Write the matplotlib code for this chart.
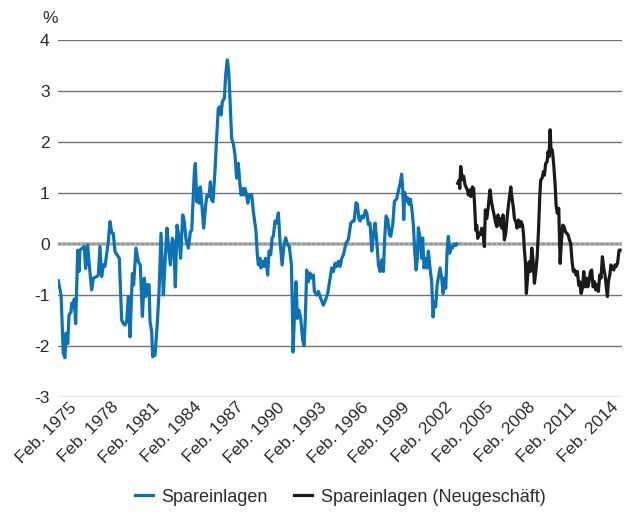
import matplotlib
matplotlib.use("Agg")
import matplotlib.pyplot as plt
import matplotlib.transforms as mtransforms

plt.rcParams['font.family'] = ['Liberation Sans', 'DejaVu Sans']
plt.rcParams['axes.unicode_minus'] = False

# Realzins Spareinlagen, in % (decimal years)
spar_dates = [
    1973.82, 1974.02, 1974.18, 1974.30, 1974.38, 1974.50, 1974.59, 1974.74, 1974.78, 1974.90,
    1974.97, 1975.07, 1975.22, 1975.31, 1975.38, 1975.55, 1975.69, 1975.79, 1975.93, 1976.05,
    1976.22, 1976.34, 1976.58, 1976.70, 1976.82, 1976.94, 1977.06, 1977.18, 1977.42, 1977.54,
    1977.66, 1977.78, 1977.90, 1978.09, 1978.21, 1978.38, 1978.50, 1978.62, 1978.74, 1978.86,
    1978.98, 1979.15, 1979.24, 1979.41, 1979.58, 1979.72, 1979.87, 1980.01, 1980.11, 1980.20,
    1980.35, 1980.42, 1980.54, 1980.61, 1980.78, 1980.95, 1981.07, 1981.21, 1981.38, 1981.50,
    1981.64, 1981.74, 1981.88, 1982.03, 1982.12, 1982.24, 1982.36, 1982.50, 1982.62, 1982.77,
    1982.89, 1983.01, 1983.18, 1983.32, 1983.42, 1983.51, 1983.61, 1983.68, 1983.78, 1983.85,
    1983.94, 1984.04, 1984.14, 1984.28, 1984.42, 1984.52, 1984.66, 1984.76, 1984.86, 1984.95,
    1985.09, 1985.21, 1985.33, 1985.43, 1985.53, 1985.62, 1985.77, 1985.86, 1985.98, 1986.08,
    1986.17, 1986.29, 1986.41, 1986.53, 1986.65, 1986.77, 1986.89, 1986.97, 1987.06, 1987.16,
    1987.25, 1987.37, 1987.45, 1987.57,
    1987.73, 1987.85, 1988.04, 1988.14, 1988.21, 1988.33, 1988.40, 1988.52, 1988.62, 1988.72,
    1988.81, 1988.88, 1988.98, 1989.10, 1989.20, 1989.29, 1989.41, 1989.53, 1989.65, 1989.77,
    1989.92, 1990.06, 1990.18, 1990.30, 1990.44, 1990.59, 1990.66, 1990.71, 1990.80, 1990.92,
    1991.02, 1991.14, 1991.26, 1991.40, 1991.50, 1991.59, 1991.69, 1991.81, 1991.93, 1992.05,
    1992.17, 1992.24, 1992.41, 1992.53, 1992.70, 1992.89, 1993.08, 1993.20, 1993.37, 1993.49,
    1993.61, 1993.73, 1993.85, 1993.97, 1994.09, 1994.21, 1994.33, 1994.52, 1994.69, 1994.86,
    1995.00, 1995.10, 1995.24, 1995.34, 1995.43, 1995.53, 1995.65, 1995.77, 1995.91, 1996.01,
    1996.13, 1996.25, 1996.37, 1996.49, 1996.61, 1996.73, 1996.85, 1996.97, 1997.09, 1997.21,
    1997.30, 1997.40, 1997.52, 1997.64, 1997.73, 1997.88, 1998.00, 1998.16, 1998.28, 1998.40,
    1998.52, 1998.60, 1998.67, 1998.74, 1998.84, 1998.93, 1999.05, 1999.15, 1999.27, 1999.36,
    1999.46, 1999.56, 1999.65, 1999.72, 1999.84, 1999.96, 2000.03, 2000.13, 2000.25, 2000.35,
    2000.44, 2000.56, 2000.68, 2000.78, 2000.87, 2000.97, 2001.07, 2001.19, 2001.28, 2001.40,
    2001.50, 2001.59, 2001.69, 2001.79, 2001.88, 2001.98, 2002.07, 2002.17, 2002.29, 2002.41,
    2002.48,
]
spar_values = [
    -0.72, -1.00, -2.14, -2.23, -1.75, -1.95, -1.39, -1.33, -1.16, -1.23,
    -1.08, -1.56, -0.12, -0.54, -0.12, -0.08, -0.05, -0.48, -0.02, -0.41,
    -0.90, -0.67, -0.64, -0.61, -0.05, -0.64, -0.41, -0.44, 0.05, 0.44,
    0.22, 0.21, -0.15, -0.23, -0.28, -1.49, -1.56, -1.59, -1.52, -1.03,
    -1.82, -0.58, -0.80, -0.08, -0.35, -0.41, -1.42, -0.67, -1.03, -0.80,
    -0.80, -1.52, -1.72, -2.21, -2.18, -1.52, -0.93, 0.21, -1.00, -0.35,
    0.31, -0.02, -0.41, 0.11, 0.05, -0.84, 0.37, 0.14, -0.28, 0.57,
    0.44, 0.08, -0.08, 0.24, 0.27, 0.83, 1.42, 1.58, 0.83, 1.09,
    0.80, 1.12, 0.80, 0.31, 0.76, 0.96, 0.93, 1.22, 0.86, 0.83,
    1.42, 2.07, 2.66, 2.69, 2.53, 2.79, 2.86, 3.31, 3.61, 3.38,
    2.86, 2.07, 1.97, 1.75, 1.29, 1.58, 1.16, 0.96, 1.09, 0.96,
    1.09, 0.96, 0.80, 0.96,
    0.97, 0.64, 0.25, -0.21, -0.41, -0.28, -0.47, -0.34, -0.44, -0.28,
    -0.41, -0.61, -0.14, -0.21, 0.12, 0.15, 0.45, 0.41, 0.61, 0.05,
    -0.41, -0.01, 0.12, -0.01, -0.05, -0.41, -1.26, -2.12, -1.46, -0.74,
    -1.46, -1.30, -1.46, -1.89, -1.99, -1.46, -0.51, -0.74, -0.57, -0.67,
    -0.61, -0.93, -1.00, -0.93, -1.07, -1.20, -1.07, -0.97, -0.67, -0.47,
    -0.54, -0.38, -0.44, -0.34, -0.44, -0.28, -0.21, 0.02, 0.09, 0.41,
    0.45, 0.45, 0.81, 0.78, 0.51, 0.45, 0.55, 0.51, 0.66, 0.61,
    0.38, 0.41, -0.14, 0.18, 0.41, 0.05, -0.41, -0.54, -0.31, -0.54,
    0.12, 0.55, 0.48, 0.18, 0.15, 0.38, 0.84, 0.88, 1.04, 1.17,
    1.37, 1.07, 0.48, 1.01, 0.84, 0.91, 0.78, 0.88, 0.64, 0.38,
    -0.14, -0.51, -0.28, 0.32, 0.12, -0.28, 0.12, -0.47, -0.28, -0.47,
    -0.14, -0.47, -0.74, -1.43, -1.13, -1.23, -0.80, -0.61, -0.47, -0.67,
    -0.97, -0.67, -0.87, -0.14, 0.15, -0.18, -0.05, -0.08, 0.00, -0.03,
    0.00,
]

# Realzins Spareinlagen im Neugeschäft, in %
neu_dates = [
    2002.55, 2002.65, 2002.70, 2002.77, 2002.84, 2002.91, 2002.98, 2003.08, 2003.15, 2003.25,
    2003.32, 2003.42, 2003.51, 2003.61, 2003.70, 2003.78, 2003.85, 2003.92, 2003.99, 2004.09,
    2004.18, 2004.28, 2004.38, 2004.47, 2004.54, 2004.64, 2004.74, 2004.81, 2004.88, 2004.98,
    2005.07, 2005.17, 2005.26, 2005.36, 2005.45, 2005.55, 2005.65, 2005.72, 2005.81, 2005.91,
    2006.01, 2006.10, 2006.20, 2006.29, 2006.37, 2006.46, 2006.56, 2006.63, 2006.73, 2006.82,
    2006.92, 2007.01, 2007.11, 2007.21, 2007.28, 2007.35, 2007.42, 2007.49, 2007.59, 2007.69,
    2007.78, 2007.88, 2007.97, 2008.07, 2008.17, 2008.26, 2008.36, 2008.45, 2008.52, 2008.62,
    2008.72, 2008.79, 2008.88, 2008.98, 2009.05, 2009.12, 2009.20, 2009.27, 2009.36, 2009.46,
    2009.56, 2009.63, 2009.72, 2009.82, 2009.92, 2010.01, 2010.11, 2010.20, 2010.30, 2010.40,
    2010.49, 2010.59, 2010.68, 2010.78, 2010.87, 2010.97, 2011.07, 2011.16, 2011.26, 2011.33,
    2011.43, 2011.52, 2011.62, 2011.71, 2011.81, 2011.91, 2012.00, 2012.10, 2012.19, 2012.29,
    2012.39, 2012.48, 2012.58, 2012.67, 2012.77, 2012.86, 2012.96, 2013.06, 2013.15, 2013.25,
    2013.32, 2013.39, 2013.49, 2013.58, 2013.68, 2013.78, 2013.87, 2013.95, 2014.05, 2014.16,
    2014.23,
]
neu_values = [
    1.19, 1.25, 1.09, 1.52, 1.36, 1.26, 1.33, 1.16, 1.12, 1.06,
    0.96, 1.06, 0.93, 1.12, 1.09, 0.70, 0.27, 0.37, 0.11, 0.21,
    0.18, 0.31, 0.21, -0.05, 0.67, 0.50, 0.70, 0.90, 1.06, 0.83,
    0.70, 0.57, 0.44, 0.34, 0.57, 0.37, 0.50, 0.31, 0.57, 0.08,
    0.21, 0.50, 0.76, 0.96, 1.12, 0.90, 0.70, 0.50, 0.44, 0.31,
    0.47, 0.34, 0.44, 0.37, 0.21, -0.12, -0.35, -0.97, -0.61, -0.35,
    -0.54, -0.08, -0.31, -0.77, -0.54, -0.28, 0.24, 0.90, 1.25, 1.29,
    1.42, 1.35, 1.58, 1.61, 1.81, 1.71, 2.24, 1.81, 1.84, 1.55,
    1.16, 0.76, 0.60, 0.70, -0.38, 0.05, 0.37, 0.34, 0.24, 0.21,
    0.18, 0.08, 0.01, -0.35, -0.54, -0.51, -0.61, -0.54, -0.81, -0.74,
    -0.97, -0.87, -0.54, -0.84, -0.67, -0.84, -0.74, -0.54, -0.51, -0.84,
    -0.74, -0.90, -0.80, -0.93, -0.61, -0.67, -0.25, -0.48, -0.61, -0.87,
    -1.03, -0.74, -0.61, -0.41, -0.48, -0.51, -0.41, -0.44, -0.38, -0.12,
    -0.12,
]

tick_years = list(range(1975, 2015, 3))
tick_labels = ["Feb. %d" % y for y in tick_years]
y_ticks = list(range(-3, 5))

BLUE = '#0a72b5'
BLACK = '#1a1a1a'
TEXT = '#2b2b2b'

fig = plt.figure(figsize=(6.24, 5.12), dpi=100)
ax = fig.add_axes([58 / 624, 1 - 397 / 512, 564 / 624, 357 / 512])

for y in y_ticks:
    if y == 0:
        # zero line: light grey band with a darker dashed core
        ax.axhline(0, color='#b4b4b4', lw=2.6, zorder=1)
        ax.axhline(0, color='#8a8a8a', lw=1.1, ls=(0, (2.0, 1.2)), zorder=1)
    else:
        ax.axhline(y, color='#737373', lw=1.0, zorder=1)

ax.plot(spar_dates, spar_values, color=BLUE, lw=2.3, solid_joinstyle='round',
        label='Spareinlagen', zorder=3)
ax.plot(neu_dates, neu_values, color=BLACK, lw=2.3, solid_joinstyle='round',
        label='Spareinlagen (Neugeschäft)', zorder=3)

ax.set_xlim(1973.8, 2014.37)
ax.set_ylim(-3, 4)
ax.set_yticks(y_ticks)
ax.set_yticklabels([str(y) for y in y_ticks], fontsize=12.5, color=TEXT)
ax.set_xticks([y + 1 / 12 for y in tick_years])
ax.set_xticklabels(tick_labels, fontsize=12.5, color=TEXT, rotation=45,
                   ha='right', va='baseline', rotation_mode='anchor')
ax.tick_params(axis='both', length=0)
ax.tick_params(axis='y', pad=6)
ax.tick_params(axis='x', pad=8)
# nudge the rotated labels so the year ends just right of each tick
shift = mtransforms.ScaledTranslation(1.5 / 100, 0, fig.dpi_scale_trans)
for lab in ax.get_xticklabels():
    lab.set_transform(lab.get_transform() + shift)
for s in ax.spines.values():
    s.set_visible(False)

fig.text(50 / 624, 1 - 18.5 / 512, '%', ha='center', va='center',
         fontsize=12.5, color=TEXT)

leg = fig.legend(loc='center', bbox_to_anchor=(340 / 624, 1 - 497 / 512), ncol=2,
                 frameon=False, fontsize=13, handlelength=1.0, handletextpad=0.45,
                 columnspacing=1.5)
for t in leg.get_texts():
    t.set_color(TEXT)

fig.savefig('out.png', dpi=100)
